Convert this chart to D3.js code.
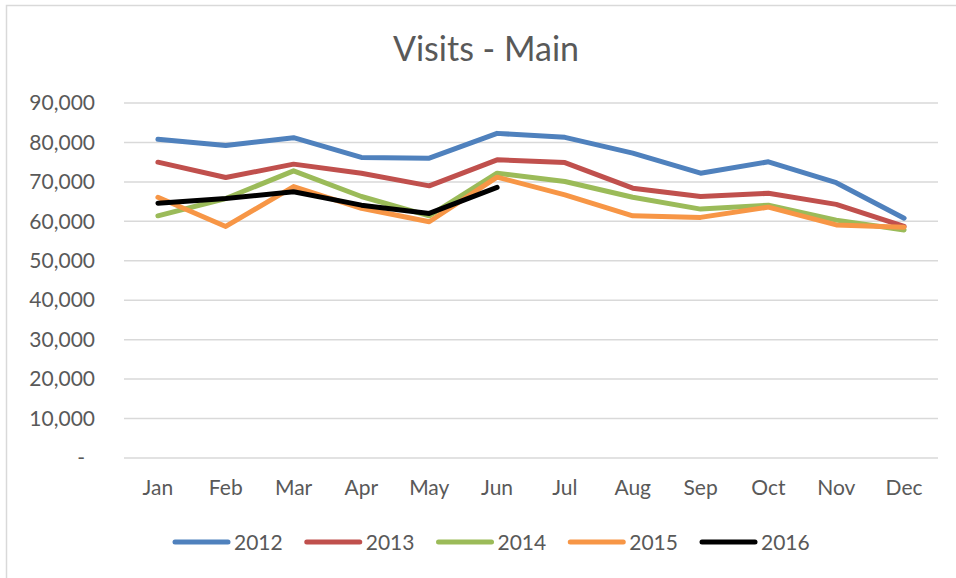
<!DOCTYPE html>
<html>
<head>
<meta charset="utf-8">
<script src="https://cdn.jsdelivr.net/npm/d3@7"></script>
<style>
  html, body { margin: 0; padding: 0; background: #fff; }
  svg { display: block; }
  text { font-family: Lato, "Liberation Sans", sans-serif; fill: #595959; }
</style>
</head>
<body>
<svg id="chart" width="956" height="578"></svg>
<script>
const months = ["Jan", "Feb", "Mar", "Apr", "May", "Jun", "Jul", "Aug", "Sep", "Oct", "Nov", "Dec"];
const years = ["2012", "2013", "2014", "2015", "2016"];
const colors = ["#4f81bd", "#c0504d", "#9bbb59", "#f79646", "#000000"];
const yTicks = [0, 10000, 20000, 30000, 40000, 50000, 60000, 70000, 80000, 90000];

const visits2012 = [80800, 79200, 81200, 76200, 76000, 82300, 81300, 77300, 72200, 75100, 69800, 60800];
const visits2013 = [75000, 71100, 74500, 72200, 69000, 75600, 74900, 68400, 66300, 67100, 64300, 58700];
const visits2014 = [61400, 65800, 72800, 66300, 61400, 72200, 70100, 66100, 63100, 64100, 60300, 57800];
const visits2015 = [66100, 58700, 68800, 63300, 59900, 71200, 66700, 61400, 61000, 63600, 59100, 58500];
const visits2016 = [64600, 65800, 67500, 64100, 62000, 68600];

const series = [visits2012, visits2013, visits2014, visits2015, visits2016];

const plot = { left: 124, right: 938, top: 103, bottom: 458 };

const svg = d3.select("#chart");

// chart frame
svg.append("rect")
    .attr("x", 6.5).attr("y", 5.5)
    .attr("width", 1000).attr("height", 1000)
    .attr("fill", "none")
    .attr("stroke", "#d9d9d9")
    .attr("stroke-width", 1.5);

svg.append("text")
    .attr("x", 486).attr("y", 61)
    .attr("text-anchor", "middle")
    .style("font-size", "34px")
    .text("Visits - Main");

const x = d3.scaleBand()
    .domain(months)
    .range([plot.left, plot.right]);

const y = d3.scaleLinear()
    .domain([0, 90000])
    .range([plot.bottom, plot.top]);

// gridlines
svg.append("g")
    .selectAll("line")
    .data(yTicks)
    .join("line")
    .attr("x1", plot.left).attr("x2", plot.right)
    .attr("y1", d => y(d)).attr("y2", d => y(d))
    .attr("stroke", "#d9d9d9")
    .attr("stroke-width", 1.5);

// y axis labels
const yAxis = svg.append("g")
    .attr("transform", `translate(${plot.left - 29},0)`)
    .call(d3.axisLeft(y).tickValues(yTicks).tickSize(0).tickPadding(0)
        .tickFormat(d => d === 0 ? "-" : d3.format(",")(d)));
yAxis.select(".domain").remove();
yAxis.selectAll("text")
    .attr("fill", "#595959")
    .style("font-size", "21px")
    .style("font-family", "Lato, 'Liberation Sans', sans-serif")
    .attr("dx", d => d === 0 ? -10 : 0);

// x axis labels
const xAxis = svg.append("g")
    .attr("transform", `translate(0,${plot.bottom})`)
    .call(d3.axisBottom(x).tickSize(0).tickPadding(22));
xAxis.select(".domain").remove();
xAxis.selectAll("text")
    .attr("fill", "#595959")
    .style("font-size", "21px")
    .style("font-family", "Lato, 'Liberation Sans', sans-serif");

const line = d3.line()
    .x((d, i) => x(months[i]) + x.bandwidth() / 2)
    .y(d => y(d));

svg.append("g")
    .selectAll("path")
    .data(series)
    .join("path")
    .attr("d", line)
    .attr("fill", "none")
    .attr("stroke", (d, i) => colors[i])
    .attr("stroke-width", 5)
    .attr("stroke-linejoin", "round")
    .attr("stroke-linecap", "round");

// legend
const legend = svg.append("g")
    .selectAll("g")
    .data(years)
    .join("g")
    .attr("transform", (d, i) => `translate(${173 + i * 131.75},542)`);

legend.append("line")
    .attr("x1", 2).attr("x2", 55)
    .attr("stroke", (d, i) => colors[i])
    .attr("stroke-width", 5)
    .attr("stroke-linecap", "round");

legend.append("text")
    .attr("x", 61).attr("y", 7.5)
    .style("font-size", "21px")
    .text(d => d);
</script>
</body>
</html>
